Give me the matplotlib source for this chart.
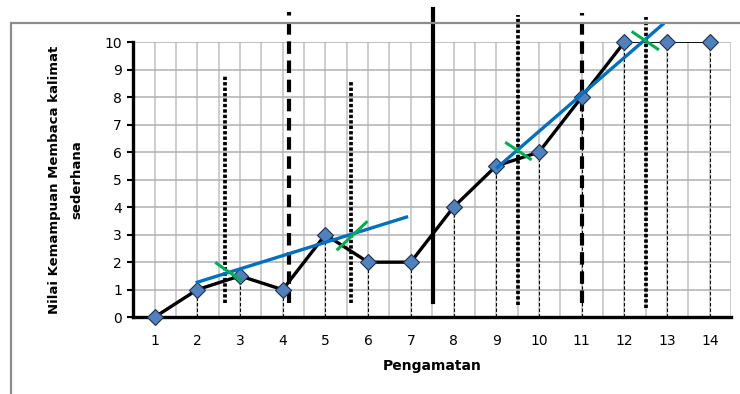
import matplotlib.pyplot as plt
from matplotlib.patches import Rectangle
import numpy as np

plt.rcParams['font.family'] = ['DejaVu Sans']

# observation data
pengamatan = list(range(1, 15))
nilai = [0, 1, 1.5, 1, 3, 2, 2, 4, 5.5, 6, 8, 10, 10, 10]

# phase divider lines: x position, bottom, top
dotted_x = [2.66, 5.61, 9.52, 12.5]
dotted_y0 = [0.5, 0.5, 0.45, 0.35]
dotted_y1 = [8.8, 8.6, 11.0, 10.9]
dashed_x = [4.14, 11.02]
dashed_y0 = [0.5, 0.5]
dashed_y1 = [11.1, 11.05]
solid_x = [7.53]
solid_y0 = [0.55]
solid_y1 = [11.2]

# trend lines (blue)
trend1_x = [2.0, 6.9]
trend1_y = [1.27, 3.64]
trend2_x = [9.03, 12.9]
trend2_y = [5.45, 10.65]

# green split-middle ticks
green_x = [(2.45, 3.01), (5.29, 5.96), (9.24, 9.8), (12.2, 12.78)]
green_y = [(1.96, 1.35), (2.47, 3.45), (6.33, 5.75), (10.36, 9.75)]

fig = plt.figure(figsize=(7.4, 3.94), dpi=100)
ax = fig.add_axes([0.18, 0.195, 0.808, 0.698])

# outer chart frame (cropped at right/bottom)
fig.add_artist(Rectangle((11/740, -0.2), 1.2, 1 - 23/394 + 0.2, transform=fig.transFigure,
                         fill=False, edgecolor='#8c8c8c', linewidth=1.6, clip_on=False))

ax.set_xlim(0.5, 14.5)
ax.set_ylim(0, 10)
ax.set_xticks(pengamatan)
ax.set_xticks(np.arange(0.5, 14.6, 0.5), minor=True)
ax.set_yticks(range(0, 11))
ax.grid(True, which='both', axis='x', color='#c0c0c0', linewidth=1.1, zorder=0)
ax.grid(True, which='major', axis='y', color='#b0b0b0', linewidth=1.1, zorder=0)
ax.set_axisbelow(True)

ax.spines['top'].set_visible(False)
ax.spines['right'].set_visible(False)
ax.spines['left'].set_linewidth(2.4)
ax.spines['bottom'].set_linewidth(2.4)
ax.tick_params(axis='x', which='both', length=0, labelsize=10, pad=12)
ax.tick_params(axis='y', which='major', length=4, width=1.5, labelsize=10, pad=4)
ax.tick_params(axis='y', which='minor', length=0)

# drop lines
ax.vlines(pengamatan[1:], 0, nilai[1:], colors='black', linewidth=0.8,
          linestyles=(0, (3, 2)), zorder=2)

# phase lines
for x, y0, y1 in zip(dotted_x, dotted_y0, dotted_y1):
    ax.plot([x, x], [y0, y1], color='black', linewidth=2.7,
            linestyle=(0, (0.9, 0.55)), clip_on=False, zorder=3)
for x, y0, y1 in zip(dashed_x, dashed_y0, dashed_y1):
    ax.plot([x, x], [y0, y1], color='black', linewidth=3,
            linestyle=(0, (3.0, 1.6)), clip_on=False, zorder=3)
for x, y0, y1 in zip(solid_x, solid_y0, solid_y1):
    ax.plot([x, x], [y0, y1], color='black', linewidth=3, clip_on=False, zorder=3)

# data line
ax.plot(pengamatan[:12], nilai[:12], color='black', linewidth=2.4, zorder=4)
ax.plot(pengamatan[11:], nilai[11:], color='black', linewidth=1.3, zorder=4)
ax.plot(pengamatan, nilai, linestyle='none', marker='D', markersize=8.5,
        markerfacecolor='#4f81bd', markeredgecolor='#1f2f4f', markeredgewidth=0.8,
        zorder=5, clip_on=False)

# trend lines
ax.plot(trend1_x, trend1_y, color='#0070c0', linewidth=2.4, zorder=6)
ax.plot(trend2_x, trend2_y, color='#0070c0', linewidth=2.4, zorder=6, clip_on=False)
for gx, gy in zip(green_x, green_y):
    ax.plot(gx, gy, color='#00b050', linewidth=2.2, zorder=7, clip_on=False)

ax.set_xlabel('Pengamatan', fontsize=10, fontweight='bold', labelpad=8)
ax.set_ylabel('Nilai Kemampuan Membaca kalimat\nsederhana', fontsize=9.5,
              fontweight='bold', labelpad=15, linespacing=2.0)

fig.savefig('out.png', dpi=100)
